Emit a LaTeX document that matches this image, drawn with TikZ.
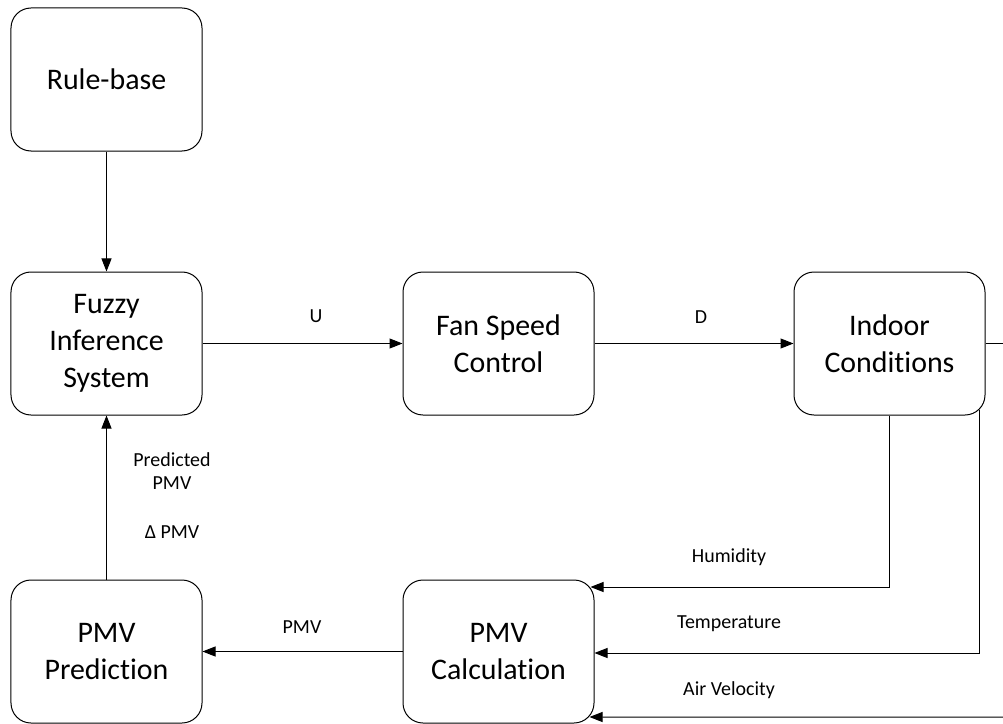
\documentclass[tikz,border=0pt]{standalone}
\usepackage{fontspec}
\setmainfont{Carlito}[Ligatures={NoCommon}]
\usetikzlibrary{arrows.meta,calc}
\begin{document}
\begin{tikzpicture}[x=1bp,y=-1bp,
  block/.style={draw,line width=1bp,rounded corners=20bp,
    minimum width=191bp,minimum height=143bp,align=center,
    font=\fontsize{30}{37}\selectfont},
  lbl/.style={font=\fontsize{20}{23}\selectfont,align=center,inner sep=0pt},
  conn/.style={line width=1bp},
  flow/.style={conn,-{Triangle[length=13bp,width=10bp]}}]
\useasboundingbox (0,0) rectangle (1003,724);

% blocks
\node[block] (rule)   at (106.5,79.5)  {Rule-base};
\node[block] (fis)    at (106.5,343.5) {Fuzzy\\Inference\\System};
\node[block] (fan)    at (498.5,343.5) {Fan Speed\\Control};
\node[block] (indoor) at (889.5,343.5) {Indoor\\Conditions};
\node[block] (calc)   at (498.5,651.5) {PMV\\Calculation};
\node[block] (pred)   at (106.5,651.5) {PMV\\Prediction};

% free ends and entry points
\coordinate (out)     at (1003,343.5);
\coordinate (airsrc)  at (1003,717);
\coordinate (humin)   at ($(calc.east)+(-4,-64.5)$);
\coordinate (tempin)  at ($(calc.east)+(0,1.5)$);
\coordinate (airin)   at ($(calc.east)+(-5,65.5)$);
\coordinate (tempsrc) at ($(indoor.south east)+(-6,-5.5)$);

% forward path
\draw[flow] (rule) -- (fis);
\draw[flow] (fis) -- (fan);
\draw[flow] (fan) -- (indoor);
\draw[conn] (indoor) -- (out);

% measured quantities
\draw[flow] (indoor.south) |- (humin);
\draw[flow] (tempsrc) |- (tempin);
\draw[flow] (airsrc) -- (airin);

% feedback path
\draw[flow] (calc) -- (pred);
\draw[flow] (pred) -- (fis);

% signal labels
\node[lbl] at (316,316) {U};
\node[lbl] at (701,317) {D};
\node[lbl] at (302,627) {PMV};
\node[lbl] at (729,557) {Humidity};
\node[lbl] at (729,624) {Temperature};
\node[lbl] at (729,690) {Air Velocity};
\node[lbl] at (172,471) {Predicted\\PMV};
\node[lbl] at (172,532) {Δ PMV};
\end{tikzpicture}
\end{document}
